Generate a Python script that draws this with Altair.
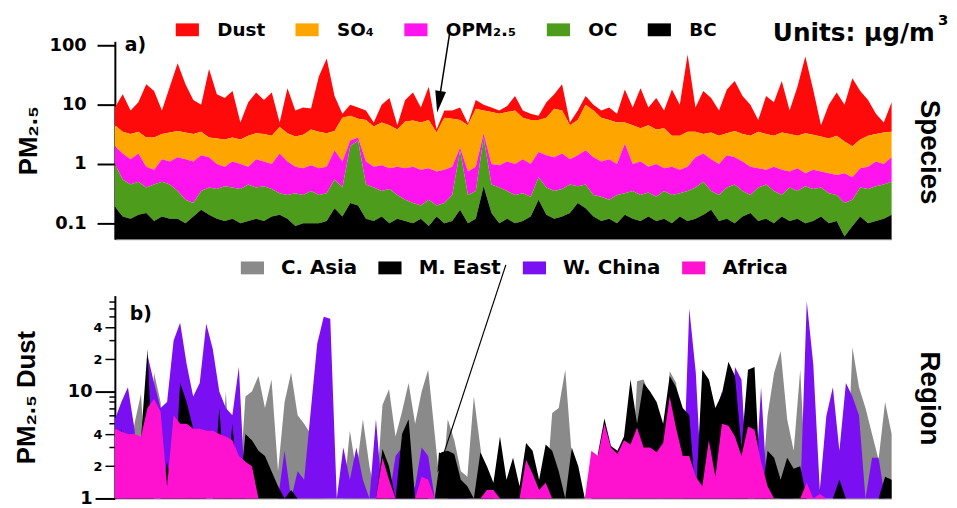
import altair as alt
import pandas as pd

# ---------------- Panel a: cumulative layer tops (ug/m3), 100 time steps ----------------
dust_top = [9, 15, 8, 11, 22, 17, 8, 20, 50, 22,
            12, 10, 40, 15, 13, 17, 5, 11, 16, 12,
            16, 5, 19, 8, 9, 8.6, 30, 60, 14, 7,
            10, 9, 8, 5, 10, 13, 4.5, 12, 16, 9,
            20, 3.8, 8, 8, 9, 4.8, 12, 10, 9, 8,
            9.5, 14, 8, 7, 6.5, 11, 15, 22, 5, 8,
            14, 10, 8, 9, 7, 18, 9, 19, 9, 13,
            8, 18, 10, 70, 9, 17, 13, 8, 18, 25,
            14, 10, 5.5, 14, 11, 25, 8, 20, 65, 18,
            4.5, 10, 16, 10, 28, 17, 12, 7, 5, 11]
so4_top = [4.5, 3.5, 3.2, 3.5, 2.8, 2.8, 3.2, 3.4, 3.6, 3.4,
           3.2, 3.5, 2.8, 2.7, 2.6, 2.8, 2.6, 3.0, 3.3, 3.2,
           3.0, 4.2, 3.3, 2.9, 3.1, 3.8, 3.5, 3.3, 3.6, 6.0,
           6.5, 5.8, 5.5, 4.3, 5.0, 4.5, 3.8, 5.2, 5.4, 5.0,
           5.5, 3.4, 6.0, 5.8, 5.5, 4.5, 8.5, 8, 7.5, 7,
           7.5, 8, 6, 5.5, 5.5, 6, 8.5, 8, 4.5, 5.5,
           10, 8, 6, 5.5, 5, 5, 4.5, 4, 4.5, 3.8,
           4, 3, 3, 3.5, 3.5, 3.2, 3.4, 3.0, 3.3, 3.6,
           3.2, 3.0, 3.5, 3.2, 3.0, 3.4, 3.2, 3.0, 3.3, 3.1,
           2.9, 2.7, 3.0, 2.4, 2.0, 2.6, 3.0, 3.2, 3.4, 3.5]
opm_top = [2.0, 1.5, 1.2, 1.5, 0.9, 0.8, 1.2, 1.1, 1.3, 1.2,
           1.1, 1.4, 1.3, 1.0, 0.9, 1.1, 1.0, 0.9, 1.2, 1.1,
           1.0, 1.5, 1.1, 0.9, 0.85, 0.95, 0.85, 0.9, 1.7, 1.1,
           2.5, 2.8, 1.1, 0.9, 0.95, 0.85, 0.9, 0.85, 0.9, 0.8,
           0.85, 0.75, 0.8, 0.9, 1.9, 0.75, 0.9, 3.3, 1.0, 0.95,
           1.1, 1.0, 1.2, 1.0, 1.6, 1.4, 1.3, 1.5, 1.2, 1.4,
           1.7, 1.3, 1.1, 1.2, 1.0, 2.2, 1.0, 1.1, 0.9, 1.0,
           0.85, 0.9, 0.8, 0.9, 1.3, 1.5, 1.2, 1.0, 1.4, 1.3,
           1.1, 0.9, 0.85, 0.8, 0.9, 0.8, 0.75, 0.85, 0.7, 0.8,
           0.75, 0.7, 0.65, 0.7, 0.6, 0.85, 0.9, 1.1, 1.0, 1.3]
oc_top = [1.0, 0.55, 0.45, 0.5, 0.4, 0.45, 0.5, 0.45, 0.35, 0.25,
          0.22, 0.35, 0.4, 0.38, 0.42, 0.4, 0.38, 0.45, 0.4, 0.42,
          0.38, 0.32, 0.3, 0.32, 0.3, 0.35, 0.3, 0.32, 0.55, 0.4,
          2.0, 2.5, 0.45, 0.4, 0.35, 0.38, 0.3, 0.25, 0.22, 0.2,
          0.25, 0.2, 0.22, 0.3, 1.7, 0.3, 0.35, 2.8, 0.45, 0.4,
          0.35, 0.3, 0.32, 0.28, 0.6, 0.4, 0.35, 0.38, 0.45, 0.42,
          0.45, 0.3, 0.28, 0.25, 0.3, 0.32, 0.35, 0.3, 0.33, 0.28,
          0.35, 0.3, 0.32, 0.35, 0.4, 0.5, 0.35, 0.3, 0.4, 0.45,
          0.35, 0.3, 0.4, 0.45, 0.35, 0.3, 0.4, 0.35, 0.42, 0.38,
          0.4, 0.32, 0.3, 0.22, 0.25, 0.4, 0.38, 0.42, 0.45, 0.5]
bc_top = [0.19, 0.13, 0.12, 0.14, 0.15, 0.11, 0.13, 0.12, 0.12, 0.1,
          0.13, 0.17, 0.14, 0.12, 0.11, 0.12, 0.1, 0.11, 0.12, 0.11,
          0.13, 0.14, 0.12, 0.09, 0.1, 0.1, 0.1, 0.11, 0.18, 0.13,
          0.22, 0.2, 0.12, 0.11, 0.13, 0.1, 0.12, 0.11, 0.1, 0.12,
          0.09, 0.13, 0.1, 0.11, 0.17, 0.1, 0.12, 0.42, 0.15, 0.1,
          0.12, 0.1, 0.11, 0.13, 0.25, 0.14, 0.12, 0.13, 0.15, 0.22,
          0.18, 0.13, 0.11, 0.12, 0.1, 0.14, 0.12, 0.11, 0.13, 0.11,
          0.12, 0.1, 0.13, 0.11, 0.12, 0.14, 0.17, 0.11, 0.12, 0.1,
          0.13, 0.15, 0.11, 0.12, 0.1, 0.13, 0.11, 0.12, 0.1, 0.11,
          0.13, 0.1, 0.11, 0.06, 0.09, 0.13, 0.1, 0.11, 0.12, 0.14]

# ---------------- Panel b: regional PM2.5 dust (ug/m3), 120 time steps ----------------
c_asia = [1, 1, 1, 5, 9.5, 1, 15, 8, 1, 1,
          1, 1, 7, 1, 1, 1, 1, 10, 1, 1,
          9, 10, 14, 7, 13, 1.8, 8, 15, 6, 5,
          4, 8, 1, 1, 1, 1, 4.3, 1.8, 5.5, 2,
          1, 7.5, 10.5, 3.8, 6.5, 12, 5, 10, 16, 4,
          1, 5.5, 3.5, 1.8, 1.6, 9, 3, 1, 1, 1,
          1, 1, 1, 1, 1, 1.4, 1, 6.3, 7, 16,
          2.5, 1, 1, 1, 1, 1, 1, 1, 1, 1,
          12.5, 13, 9, 1, 1, 15.5, 12, 1, 1, 1,
          1, 1, 1, 1, 1, 1, 12, 1, 1, 1,
          6, 15, 24, 5.5, 2.8, 16, 1, 1, 1, 1,
          1, 1, 1, 26, 11, 7, 4, 2.3, 8, 4]
m_east = [1, 4.5, 1, 3.8, 3.6, 25, 1, 1, 2.2, 1,
          12, 8, 4.5, 4.0, 1, 1, 7, 1, 5, 1,
          4, 3.5, 2.8, 2.5, 1.8, 1.3, 1, 1.2, 1, 1,
          1, 1, 1, 1, 1, 1, 1, 1, 1, 1,
          1, 2.9, 2, 1, 4, 5.5, 1, 1.3, 1, 1,
          2.7, 2.8, 2.6, 1.5, 1.3, 1, 2.7, 2, 1.4, 3.8,
          1.5, 2.4, 1.3, 3.3, 2.8, 1.5, 3.2, 2.8, 1.8, 1,
          3.0, 2, 1, 1, 2.6, 5.6, 3.1, 2.8, 3.8, 13,
          5, 12, 10, 8, 5, 14, 11, 7, 6, 1,
          16, 13, 7, 9.5, 19, 14, 3, 16, 17, 1,
          2.8, 2.4, 1.5, 2.4, 1.9, 2.0, 1, 1, 1, 1,
          1, 1.5, 1, 1, 1, 1, 1, 1, 1.6, 1.5]
w_china = [5.5, 8, 11, 4.5, 1, 22, 12, 7, 8, 30,
           44, 18, 9, 12, 43, 25, 10, 7, 6, 17,
           1, 1, 1, 1, 1, 1, 2.8, 1, 1.8, 1.5,
           6.5, 28, 50, 48, 1, 3, 1.5, 3, 1.5, 1,
           5.5, 1, 1, 2.5, 3, 1, 1.3, 3, 2.5, 1,
           1, 1, 1.8, 1.2, 1, 1, 1, 1.3, 1, 1,
           1.2, 1, 1.2, 1, 1, 1, 1, 1, 1, 1,
           1, 1, 1, 1, 1, 1, 1, 1, 1, 1,
           1, 1, 1, 1, 1, 1, 1, 1, 60, 15,
           1, 13, 6, 10, 1, 17, 13, 1, 1, 11,
           1, 1, 1, 2.3, 1, 1, 70, 18, 1.2, 5.9,
           11, 2.8, 12, 9, 6, 1, 2.4, 2.4, 1, 1]
africa = [4.5, 4.2, 4.0, 4.0, 3.8, 7, 8.5, 6.5, 1.3, 6,
          5, 5, 4.5, 4.5, 4.3, 4.3, 4.0, 3.8, 3.5, 2.5,
          2.2, 2.0, 1, 1, 1, 1, 1, 1, 1, 1,
          1, 1, 1, 1, 1, 1, 1, 1, 1, 1,
          1, 2.4, 1.5, 1, 1, 1, 1, 1.6, 1.5, 1,
          1, 1, 1, 1, 1, 1, 1, 1.2, 1.2, 1,
          1, 1, 1, 2.3, 1.7, 1.2, 1.4, 1, 1, 1,
          1, 1, 1, 2.8, 2.5, 5.0, 3.0, 2.6, 3.5, 3.2,
          4.6, 3, 3, 2.7, 3.3, 9, 4.5, 2.5, 2.5, 1.6,
          1.3, 3.5, 1.6, 5, 4.8, 3.8, 2.5, 4.7, 4.4, 2.2,
          1.3, 1, 1, 1, 1, 1, 1.4, 1, 1.1, 1,
          1, 1, 1, 1, 1, 1, 1, 1, 1, 1]

species = ["Dust", "SO₄", "OPM₂.₅", "OC", "BC"]
species_colors = ["#ff0a0a", "#ffa500", "#ff14ee", "#4e9c1c", "#000000"]
regions = ["C. Asia", "M. East", "W. China", "Africa"]
region_colors = ["#8a8a8a", "#000000", "#7a10f2", "#ff12cf"]

A_MIN, A_MAX = 0.054, 117
B_MIN, B_MAX = 1, 79
W, HA, HB = 785, 200, 205
FH = "DejaVu Sans"
FV = "Liberation Sans"

# long table, each species band goes from the next layer's top to its own top
tops = [dust_top, so4_top, opm_top, oc_top, bc_top]
rows = []
for k, name in enumerate(species):
    for i, v in enumerate(tops[k]):
        below = tops[k + 1][i] if k + 1 < len(tops) else A_MIN
        rows.append({"t": i, "species": name, "top": v, "bottom": below})
df_a = pd.DataFrame(rows)

series_b = {"C. Asia": c_asia, "M. East": m_east, "W. China": w_china, "Africa": africa}
rows = []
for name, vals in series_b.items():
    for i, v in enumerate(vals):
        rows.append({"t": i, "region": name, "top": v, "bottom": B_MIN})
df_b = pd.DataFrame(rows)

rect_path = "M-1.8,-1H1.8V1H-1.8Z"
head_path = "M-0.5,-1L0.5,-1L0,1Z"

# ---------------- Panel a ----------------
xa = alt.X("t:Q", scale=alt.Scale(domain=[0, 99], nice=False, zero=False),
           axis=alt.Axis(labels=False, ticks=False, title=None, grid=False,
                         domainColor="#8c8c8c", domainWidth=1))
ya = alt.Y("top:Q", scale=alt.Scale(type="log", domain=[A_MIN, A_MAX], nice=False),
           axis=alt.Axis(values=[0.1, 1, 10, 100],
                         labelExpr="datum.value < 1 ? '0.1' : format(datum.value, 'd')",
                         tickSize=18, tickWidth=2, tickColor="black",
                         domainWidth=2, domainColor="black", grid=False,
                         labelFont=FH, labelFontSize=18, labelFontWeight="bold",
                         labelColor="black", labelPadding=11, labelFlush=False,
                         labelOverlap=False,
                         title="PM₂.₅", titleFont=FV, titleFontSize=26,
                         titleFontWeight="bold", titleColor="black", titlePadding=8))

legend_a = alt.Legend(orient="none", direction="horizontal", legendX=64, legendY=-21,
                      title=None, columns=5, symbolType=rect_path, symbolSize=169,
                      symbolStrokeWidth=0, symbolOpacity=1, labelFont=FH,
                      labelFontSize=18.5, labelFontWeight="bold", labelColor="black",
                      labelOffset=21, columnPadding=30, padding=0)

areas_a = alt.Chart(df_a).mark_area(interpolate="linear").encode(
    x=xa, y=ya, y2="bottom:Q",
    color=alt.Color("species:N", scale=alt.Scale(domain=species, range=species_colors),
                    legend=legend_a, sort=species),
)

arrow_a = pd.DataFrame({"t": [42.7, 41.3], "top": [171, 11.2]})
arrow_a_line = alt.Chart(arrow_a).mark_line(color="black", strokeWidth=1.5, clip=False).encode(
    x=xa, y=ya)
arrow_a_head = alt.Chart(arrow_a.iloc[[1]]).mark_point(
    shape=head_path, size=484, angle=9.2, filled=True, color="black", opacity=1,
    clip=False).encode(x=xa, y=ya)

def label(text, x, y, size, font=FH, angle=0, align="left"):
    return alt.Chart(pd.DataFrame({"s": [text]})).mark_text(
        font=font, fontSize=size, fontWeight="bold", color="black", align=align,
        baseline="middle", angle=angle).encode(x=alt.value(x), y=alt.value(y), text="s:N")

panel_a = alt.layer(
    areas_a, arrow_a_line, arrow_a_head,
    label("a)", 10, 4, 19),
    label("Units: µg/m", 665, -8, 25),
    label("3", 832, -21, 15),
    label("Species", 823, 112, 28, font=FV, angle=90, align="center"),
).properties(width=W, height=HA)

# ---------------- Panel b ----------------
xb = alt.X("t:Q", scale=alt.Scale(domain=[0, 119], nice=False, zero=False),
           axis=alt.Axis(labels=False, ticks=False, title=None, grid=False,
                         domainColor="#8c8c8c", domainWidth=1))
major = "datum.value == 1 || datum.value == 10"
mid = "datum.value == 2 || datum.value == 4 || datum.value == 20 || datum.value == 40"
yb = alt.Y("top:Q", scale=alt.Scale(type="log", domain=[B_MIN, B_MAX], nice=False),
           axis=alt.Axis(values=[1, 2, 3, 4, 5, 6, 7, 8, 9, 10, 20, 30, 40, 50, 60, 70],
                         labelExpr="datum.value == 1 ? '1' : datum.value == 2 ? '2' : datum.value == 4 ? '4' : datum.value == 10 ? '10' : datum.value == 20 ? '2' : datum.value == 40 ? '4' : ''",
                         tickSize={"condition": [{"test": major, "value": 20},
                                                 {"test": mid, "value": 10}], "value": 6},
                         tickWidth={"condition": {"test": major, "value": 2}, "value": 1.5},
                         labelFontSize={"condition": {"test": major, "value": 18}, "value": 13},
                         tickColor="black", domainWidth=2, domainColor="black", grid=False,
                         labelFont=FH, labelFontWeight="bold", labelColor="black",
                         labelPadding=3, labelFlush=False, labelOverlap=False,
                         title="PM₂.₅ Dust", titleFont=FV, titleFontSize=26,
                         titleFontWeight="bold", titleColor="black", titlePadding=28))

legend_b = alt.Legend(orient="none", direction="horizontal", legendX=129, legendY=-38,
                      title=None, columns=4, symbolType=rect_path, symbolSize=169,
                      symbolStrokeWidth=0, symbolOpacity=1, labelFont=FH,
                      labelFontSize=20, labelFontWeight="bold", labelColor="black",
                      labelOffset=19, columnPadding=21, padding=0)

color_b = alt.Color("region:N", scale=alt.Scale(domain=regions, range=region_colors),
                    legend=legend_b, sort=regions)

layers_b = []
for name in ["C. Asia", "W. China", "M. East", "Africa"]:
    layers_b.append(
        alt.Chart(df_b).transform_filter(alt.datum.region == name)
        .mark_area(interpolate="linear", opacity=1)
        .encode(x=xb, y=yb, y2="bottom:Q", color=color_b)
    )

arrow_b = pd.DataFrame({"t": [59.9, 49.9], "top": [153, 2.13]})
arrow_b_line = alt.Chart(arrow_b).mark_line(color="black", strokeWidth=1.2, clip=False).encode(
    x=xb, y=yb)
arrow_b_head = alt.Chart(arrow_b.iloc[[1]]).mark_point(
    shape=head_path, size=400, angle=18, filled=True, color="black", opacity=1,
    clip=False).encode(x=xb, y=yb)

panel_b = alt.layer(
    *layers_b, arrow_b_line, arrow_b_head,
    label("b)", 15, 19, 19),
    label("Region", 823, 104, 28, font=FV, angle=90, align="center"),
).properties(width=W, height=HB)

chart = alt.vconcat(panel_a, panel_b, spacing=19).properties(
    padding={"left": 5, "top": 3, "right": 0, "bottom": 0}
).configure_view(stroke=None).resolve_scale(color="independent")

chart.save("out.html", embed_options={"renderer": "svg", "actions": False})
